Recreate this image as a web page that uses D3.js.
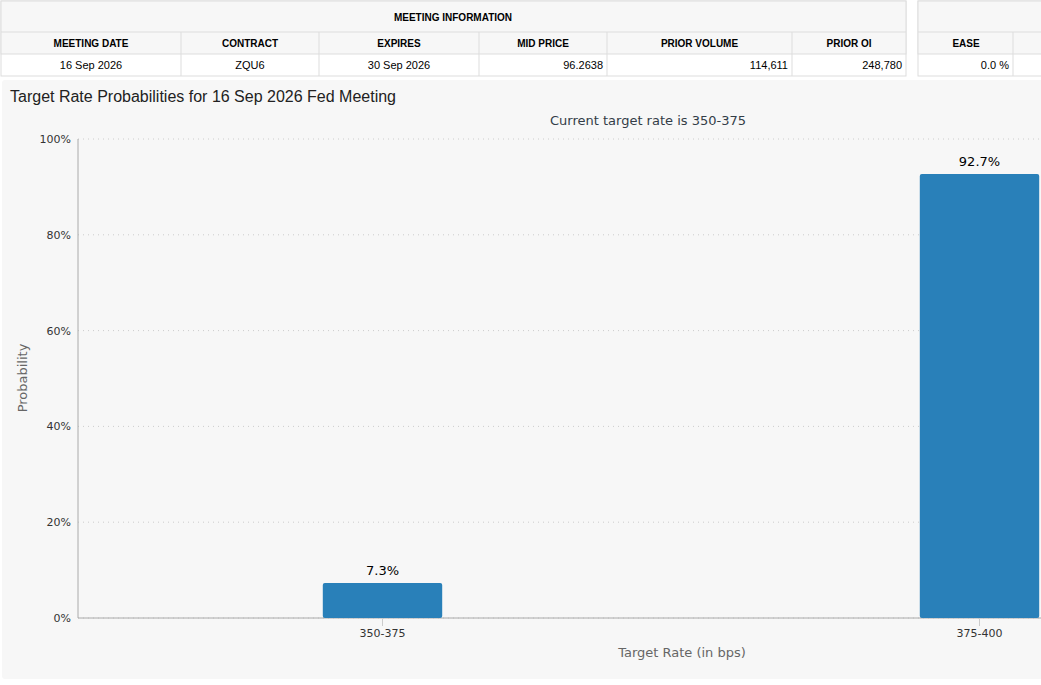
<!DOCTYPE html>
<html><head><meta charset="utf-8">
<script src="https://cdn.jsdelivr.net/npm/d3@7"></script>
<style>
body{margin:0;background:#fff;font-family:Arial,"Liberation Sans",sans-serif;overflow:hidden}
</style></head><body>
<svg width="1041" height="685"></svg>
<script>
const headers = ['MEETING DATE','CONTRACT','EXPIRES','MID PRICE','PRIOR VOLUME','PRIOR OI'];
const values = ['16 Sep 2026','ZQU6','30 Sep 2026','96.2638','114,611','248,780'];
const colEdges = [1,181,319,479,607,792,906];
const aligns = ['middle','middle','middle','end','end','end'];
const categories = ['350-375','375-400'];
const probs = [7.3,92.7];
const yTicks = [0,20,40,60,80,100];

const svg = d3.select('svg');
const border = '#ddd';

// top table
const t = svg.append('g');
t.append('rect').attr('x',1).attr('y',1).attr('width',905).attr('height',75).attr('fill','#fff').attr('stroke',border);
t.append('rect').attr('x',1).attr('y',1).attr('width',905).attr('height',53).attr('fill','#f7f7f7').attr('stroke',border);
t.append('line').attr('x1',1).attr('x2',906).attr('y1',32).attr('y2',32).attr('stroke',border);
t.append('text').attr('x',453).attr('y',21).attr('text-anchor','middle').attr('font-size',10).attr('font-weight','bold').text('MEETING INFORMATION');
headers.forEach((h,i)=>{
  const x0 = colEdges[i], x1 = colEdges[i+1];
  if(i>0) t.append('line').attr('x1',x0).attr('x2',x0).attr('y1',32).attr('y2',76).attr('stroke',border);
  t.append('text').attr('x',(x0+x1)/2).attr('y',47).attr('text-anchor','middle').attr('font-size',10).attr('font-weight','bold').text(h);
  const vx = aligns[i]==='end' ? x1-4 : (x0+x1)/2;
  t.append('text').attr('x',vx).attr('y',69).attr('text-anchor',aligns[i]).attr('font-size',11).text(values[i]);
});
// second table
t.append('rect').attr('x',918).attr('y',1).attr('width',130).attr('height',75).attr('fill','#fff').attr('stroke',border);
t.append('rect').attr('x',918).attr('y',1).attr('width',130).attr('height',53).attr('fill','#f7f7f7').attr('stroke',border);
t.append('line').attr('x1',918).attr('x2',1041).attr('y1',32).attr('y2',32).attr('stroke',border);
t.append('line').attr('x1',1013).attr('x2',1013).attr('y1',32).attr('y2',76).attr('stroke',border);
t.append('text').attr('x',966).attr('y',47).attr('text-anchor','middle').attr('font-size',10).attr('font-weight','bold').text('EASE');
t.append('text').attr('x',1009).attr('y',69).attr('text-anchor','end').attr('font-size',11).text('0.0 %');

// chart panel
svg.append('rect').attr('x',2).attr('y',80).attr('width',1045).attr('height',599).attr('rx',3).attr('fill','#f7f7f7');
svg.append('text').attr('x',10).attr('y',102).attr('font-size',16).attr('fill','#222').text('Target Rate Probabilities for 16 Sep 2026 Fed Meeting');
svg.append('text').attr('x',648).attr('y',125).attr('text-anchor','middle').attr('font-size',13).attr('fill','#333d47')
  .attr('font-family','"DejaVu Sans",sans-serif').text('Current target rate is 350-375');

const x = d3.scaleBand().domain(categories).range([84,1278]);
const y = d3.scaleLinear().domain([0,100]).range([618,139]);
const f = '"DejaVu Sans",sans-serif';

const grid = svg.append('g');
yTicks.forEach(v=>{
  grid.append('line').attr('x1',78).attr('x2',1041).attr('y1',y(v)).attr('y2',y(v))
    .attr('stroke','#ccc').attr('stroke-dasharray','1,4');
  grid.append('text').attr('x',71).attr('y',y(v)+4).attr('text-anchor','end').attr('font-size',11)
    .attr('font-family',f).attr('fill','#333').text(v+'%');
});
svg.append('line').attr('x1',78).attr('x2',78).attr('y1',139).attr('y2',618).attr('stroke','#aaa');
svg.append('line').attr('x1',78).attr('x2',1041).attr('y1',618).attr('y2',618).attr('stroke','#aaa');

const bw = x.bandwidth()*0.2;
svg.selectAll('rect.bar').data(probs).enter().append('rect').attr('class','bar')
  .attr('x',(d,i)=>x(categories[i])+x.bandwidth()/2-bw/2).attr('width',bw)
  .attr('y',d=>y(d)).attr('height',d=>618-y(d)).attr('rx',2).attr('fill','#2980b9');
svg.selectAll('text.lab').data(probs).enter().append('text').attr('class','lab')
  .attr('x',(d,i)=>x(categories[i])+x.bandwidth()/2).attr('y',d=>y(d)-8)
  .attr('text-anchor','middle').attr('font-size',13).attr('font-family',f).attr('fill','#000').text(d=>d+'%');
categories.forEach(c=>{
  const cx = x(c)+x.bandwidth()/2;
  svg.append('line').attr('x1',cx).attr('x2',cx).attr('y1',618).attr('y2',626).attr('stroke','#ccc');
  svg.append('text').attr('x',cx).attr('y',637).attr('text-anchor','middle').attr('font-size',11)
    .attr('font-family',f).attr('fill','#333').text(c);
});
svg.append('text').attr('x',682).attr('y',657).attr('text-anchor','middle').attr('font-size',13)
  .attr('font-family',f).attr('fill','#666').text('Target Rate (in bps)');
svg.append('text').attr('transform','translate(27,378) rotate(-90)').attr('text-anchor','middle').attr('font-size',13)
  .attr('font-family',f).attr('fill','#666').text('Probability');
</script></body></html>
